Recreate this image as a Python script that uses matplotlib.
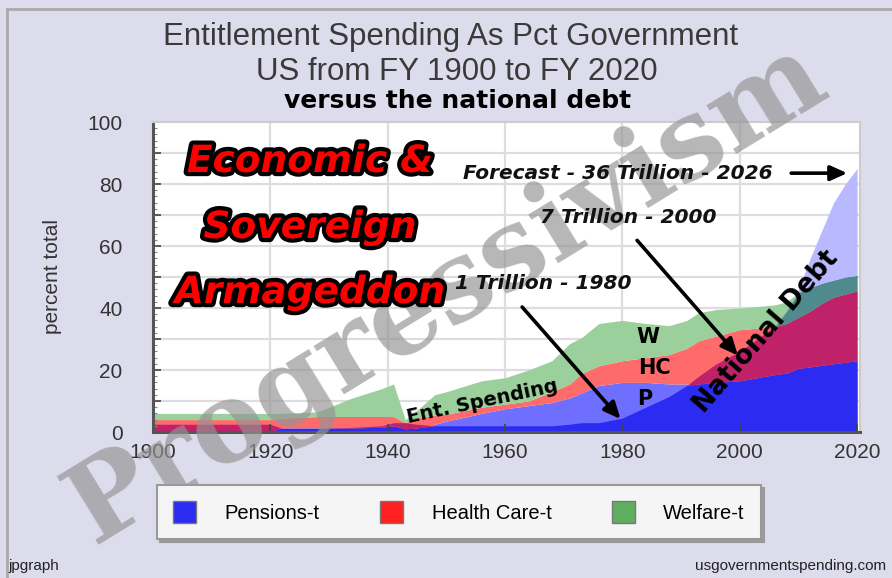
import numpy as np
import matplotlib
matplotlib.use("Agg")
import matplotlib.pyplot as plt
from matplotlib.patches import Patch, Rectangle
import matplotlib.patheffects as pe
from matplotlib.ticker import MultipleLocator

# ---------------- data ----------------
years = [1900, 1910, 1920, 1922, 1928, 1934, 1939, 1941, 1943, 1945, 1948, 1950,
         1956, 1960, 1964, 1968, 1971, 1973, 1976, 1980, 1984, 1988, 1991, 1993,
         1996, 2000, 2003, 2006, 2008, 2010, 2012, 2014, 2016, 2018, 2020]
pensions = [0, 0, 0.3, 1.3, 1.3, 1.3, 1.5, 2, 1, 1.3, 2.5, 3.5,
            6, 7.5, 8.5, 9.5, 11, 12.6, 15, 16, 16, 15.5, 15.5, 15.5,
            16, 16.5, 17.5, 18.5, 19, 20.5, 21, 21.5, 22, 22.5, 23]
health = [4, 4, 3.7, 3.2, 3.7, 3.7, 3.5, 3, 2, 3.2, 3, 2.2,
          2, 1.5, 1.5, 3.5, 4.5, 6.2, 6.4, 7, 8, 9.5, 11.5, 13.9,
          15, 16.5, 16, 15.5, 16, 16.5, 18, 20, 21.5, 22, 22.5]
welfare = [2, 2, 2, 1.5, 1.5, 6, 9, 10.5, 1, 2.5, 6.5, 7.3,
           8.5, 8.5, 10, 10, 13, 11.6, 13.6, 13, 11, 9.3, 9, 9.1,
           8.5, 7, 7, 7, 7, 8, 7.5, 6.5, 5.5, 5.5, 5]
debt = [2.5, 2.5, 2.5, 1.2, 1.2, 1.5, 2, 3, 3, 2.5, 2, 2,
        2, 2, 2, 2, 2.5, 3, 3, 4.5, 8, 11.5, 15, 18,
        22, 26, 30, 34, 39, 46, 56, 65, 74, 80, 85]

legend_labels = ["Pensions-t", "Health Care-t", "Welfare-t"]
x_ticks = [1900, 1920, 1940, 1960, 1980, 2000, 2020]
y_ticks = [0, 20, 40, 60, 80, 100]

# ---------------- styling ----------------
W, H = 892, 578
BG = "#dcdcec"
P_L, P_D = "#6e6eff", "#2b2bf2"
HC_L, HC_D = "#ff6a6a", "#c0226a"
W_L, W_D = "#9bcf9b", "#4f8a8f"
DEBT_C = "#b9b9ff"

def fx(x):
    return x / W

def fy(y):
    return 1 - y / H

fig = plt.figure(figsize=(W / 100, H / 100), dpi=100, facecolor=BG)
ax = fig.add_axes([fx(153), fy(432), fx(860) - fx(153), fy(122) - fy(432)])
ax.set_facecolor("white")
ax.set_xlim(1900, 2020.5)
ax.set_ylim(0, 100)

yrs = np.array(years, dtype=float)
p = np.array(pensions, dtype=float)
hc = np.array(health, dtype=float)
wf = np.array(welfare, dtype=float)
d = np.array(debt, dtype=float)
c1 = p
c2 = p + hc
c3 = p + hc + wf

# manual grid below everything
for yv in np.arange(10, 100, 10):
    ax.axhline(yv, color="#dddddd", lw=1.6, zorder=0.3)
for xv in x_ticks[1:-1]:
    ax.axvline(xv, color="#dddddd", lw=1.6, zorder=0.3)

# light stacked areas
ax.fill_between(yrs, 0, c1, color=P_L, lw=0, zorder=1)
ax.fill_between(yrs, c1, c2, color=HC_L, lw=0, zorder=1)
ax.fill_between(yrs, c2, c3, color=W_L, lw=0, zorder=1)
# parts covered by the translucent national debt area
ax.fill_between(yrs, 0, np.minimum(c1, d), color=P_D, lw=0, zorder=1.1)
ax.fill_between(yrs, np.minimum(c1, d), np.minimum(c2, d), color=HC_D, lw=0, zorder=1.1)
ax.fill_between(yrs, np.minimum(c2, d), np.minimum(c3, d), color=W_D, lw=0, zorder=1.1)
ax.fill_between(yrs, c3, d, where=d > c3, interpolate=True, color=DEBT_C, lw=0, zorder=1.1)

# axes styling
ax.set_xticks(x_ticks)
ax.set_xticklabels([str(t) for t in x_ticks])
ax.yaxis.set_minor_locator(MultipleLocator(2))
ax.set_yticks(np.arange(0, 101, 10))
ax.set_yticklabels([str(int(v)) if v in y_ticks else "" for v in np.arange(0, 101, 10)])
ax.tick_params(axis="both", which="major", direction="in", length=6, width=1.2,
               color="#444444", labelsize=15, labelcolor="#333333")
ax.tick_params(axis="y", which="minor", direction="in", length=3, width=0.8, color="#888888")
ax.tick_params(axis="y", pad=22)
ax.tick_params(axis="x", pad=8)
for lab in ax.get_xticklabels() + ax.get_yticklabels():
    lab.set_fontfamily("Liberation Sans")
for side in ["top", "right"]:
    ax.spines[side].set_color("#cccccc")
    ax.spines[side].set_linewidth(1.5)
for side in ["left", "bottom"]:
    ax.spines[side].set_color("#555555")
    ax.spines[side].set_linewidth(2.2)
ax.set_ylabel("percent total", fontsize=15, color="#333333", family="Liberation Sans", labelpad=18)

# titles
fig.text(fx(451), fy(37), "Entitlement Spending As Pct Government", ha="center", va="center",
         fontsize=22.5, color="#3a3a3a", family="Liberation Sans")
fig.text(fx(457), fy(72), "US from FY 1900 to FY 2020", ha="center", va="center",
         fontsize=22.5, color="#3a3a3a", family="Liberation Sans")
fig.text(fx(458), fy(101), "versus the national debt", ha="center", va="center",
         fontsize=18, fontweight="bold", color="black", family="DejaVu Sans")

# watermark
ax.text(fx(448), fy(293), "Progressivism", transform=fig.transFigure, rotation=31.5,
        ha="center", va="center", fontsize=79, fontweight="bold", family="DejaVu Serif",
        color="#949494", alpha=0.68, zorder=4, clip_on=False, rotation_mode="anchor")

# red headline
outline = [pe.withStroke(linewidth=6, foreground="black")]
for txt, xc, yc in [("Economic &", 310, 162), ("Sovereign", 310, 228), ("Armageddon", 310, 293)]:
    ax.text(fx(xc), fy(yc), txt, transform=fig.transFigure, ha="center", va="center",
            fontsize=27, fontweight="bold", fontstyle="italic", color="#ff0000",
            family="DejaVu Sans", path_effects=outline, zorder=6)

# annotations
ann_kw = dict(fontsize=14.5, fontweight="bold", fontstyle="italic", color="#111111",
              family="DejaVu Sans", zorder=6)
ax.text(1952.8, 83.5, "Forecast - 36 Trillion - 2026", ha="left", va="center", **ann_kw)
ax.text(1966.0, 69.3, "7 Trillion - 2000", ha="left", va="center", **ann_kw)
ax.text(1951.5, 47.9, "1 Trillion - 1980", ha="left", va="center", **ann_kw)
arrow_kw = dict(arrowstyle="-|>,head_length=1.0,head_width=0.45", color="black", lw=2.6)
ax.annotate("", xy=(2018.8, 83.5), xytext=(2008.3, 83.5), arrowprops=arrow_kw, zorder=6)
ax.annotate("", xy=(2000.0, 24.0), xytext=(1982.2, 62.5), arrowprops=arrow_kw, zorder=6)
ax.annotate("", xy=(1980.0, 3.5), xytext=(1962.6, 41.0), arrowprops=arrow_kw, zorder=6)

lab_kw = dict(fontsize=15, fontweight="bold", color="black", family="DejaVu Sans",
              ha="center", va="center", zorder=6)
ax.text(1984.3, 30.7, "W", **lab_kw)
ax.text(1985.5, 20.5, "HC", **lab_kw)
ax.text(1983.8, 10.8, "P", **lab_kw)
ax.text(1956.2, 9.7, "Ent. Spending", rotation=12, fontsize=14, fontweight="bold",
        color="black", family="DejaVu Sans", ha="center", va="center", zorder=6)
ax.text(2004.6, 32.5, "National Debt", rotation=49, fontsize=19, fontweight="bold",
        color="black", family="DejaVu Sans", ha="center", va="center", zorder=6)

# legend
handles = [Patch(facecolor=c, edgecolor="#777777") for c in ["#2b2bf2", "#ff2020", "#5fae5f"]]
leg = fig.legend(handles, legend_labels, ncol=3, loc="center",
                 bbox_to_anchor=(fx(459), fy(512)), frameon=True, fancybox=False,
                 shadow={"color": "#999999", "alpha": 1}, handlelength=1.15, handleheight=1.3,
                 columnspacing=3.0, handletextpad=1.4, borderpad=0.8,
                 prop={"family": "Liberation Sans", "size": 14.5})
leg.get_frame().set_facecolor("#f5f5f5")
leg.get_frame().set_edgecolor("#999999")
leg.get_frame().set_linewidth(1.5)
leg._legend_box.sep = 4

# footers
fig.text(fx(8), fy(566), "jpgraph", ha="left", va="center", fontsize=11,
         color="#222222", family="Liberation Sans")
fig.text(fx(886), fy(566), "usgovernmentspending.com", ha="right", va="center", fontsize=11,
         color="#222222", family="Liberation Sans")

# outer frame line (top and left edges visible)
fig.patches.append(Rectangle((fx(7), -0.1), 1.2, fy(9) + 0.1,
                             transform=fig.transFigure, fill=False, edgecolor="#aaaaaa",
                             lw=2, zorder=0))

fig.savefig("out.png", dpi=100, facecolor=BG)
